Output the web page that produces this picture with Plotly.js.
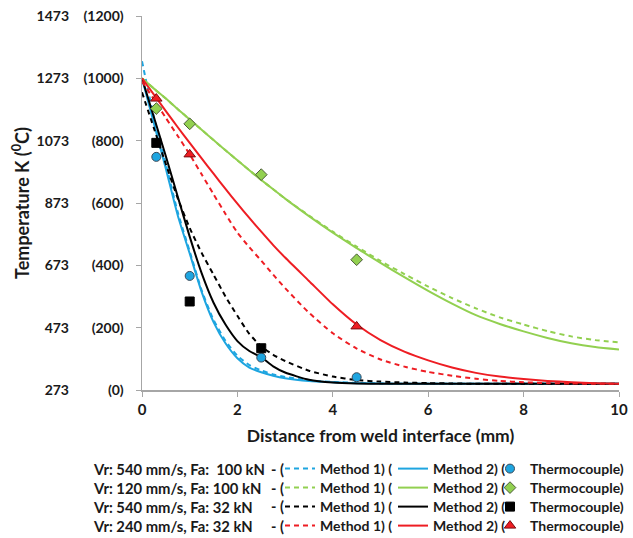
<!DOCTYPE html>
<html>
<head>
<meta charset="utf-8">
<script src="https://cdn.plot.ly/plotly-3.0.1.min.js"></script>
<style>html,body{margin:0;padding:0;background:#fff;}</style>
</head>
<body>
<div id="chart" style="width:633px;height:538px;"></div>
<script>
// ---- Data (distance in mm, temperature in °C) ----
const distanceMm = [0,0.25,0.5,0.75,1,1.25,1.5,1.75,2,2.25,2.5,2.75,3,3.5,4,4.5,5,5.5,6,6.5,7,7.5,8,8.5,9,9.5,10];

// Vr 540 mm/s, Fa 100 kN (blue)
const blueMethod1 = [1055,875,725,570,445,320,225,158,110,80,63,50,42,31,26,23,21,20,20,20,20,20,20,20,20,20,20];
const blueMethod2 = [1000,855,710,560,438,315,218,150,102,72,57,46,38,29,25,22,21,20,20,20,20,20,20,20,20,20,20];
// Vr 120 mm/s, Fa 100 kN (green)
const greenMethod1 = [1000,967,935,901,868,835,802,769,737,705,674,644,614,560,508,460,414,372,332,295,262,233,210,189,172,160,153];
const greenMethod2 = [1000,967,935,901,868,835,802,769,737,705,674,644,614,558,505,455,408,362,318,277,240,212,188,167,150,138,130];
// Vr 540 mm/s, Fa 32 kN (black)
const blackMethod1 = [955,840,725,615,520,440,370,300,238,180,140,113,93,62,43,32,27,24,22,21,20,20,20,20,20,20,20];
const blackMethod2 = [1000,875,750,620,492,375,280,210,157,125,105,76,56,33,24,21,20,20,20,20,20,20,20,20,20,20,20];
// Vr 240 mm/s, Fa 32 kN (red)
const redMethod1 = [990,932,873,815,756,692,628,565,505,458,415,370,327,248,182,133,98,75,58,46,36,29,25,22,21,20,20];
const redMethod2 = [1000,948,895,843,793,743,694,645,598,552,508,465,425,350,275,210,160,123,95,72,55,43,35,29,25,22,20];

// Thermocouple measurements
const blueTcX = [0.3,1,2.5,4.5];   const blueTcT = [748,366,104,41];
const greenTcX = [0.3,1,2.5,4.5];  const greenTcT = [903,854,691,418];
const blackTcX = [0.3,1,2.5];      const blackTcT = [793,284,134];
const redTcX = [0.3,1,4.5];        const redTcT = [935,756,204];

// Labels
const rowLabels = ['Vr: 540 mm/s, Fa:\u00a0 100 kN','Vr: 120 mm/s, Fa: 100 kN','Vr: 540 mm/s, Fa: 32 kN','Vr: 240 mm/s, Fa: 32 kN'];
const xTickVals = [0,2,4,6,8,10];
const yTickVals = [0,200,400,600,800,1000,1200];
const yTickCelsius = ['(0)','(200)','(400)','(600)','(800)','(1000)','(1200)'];
const yTickKelvin = ['273','473','673','873','1073','1273','1473'];

// ---- Styling ----
const colors = ['#1ea5e0','#92d050','#000000','#ee1d23'];
const markerSymbols = ['circle','diamond','square','triangle-up'];
const markerLines = ['#3a4a5a','#4d5d3a','#000000','#7a0d10'];
const method1 = [blueMethod1, greenMethod1, blackMethod1, redMethod1];
const method2 = [blueMethod2, greenMethod2, blackMethod2, redMethod2];
const tcX = [blueTcX, greenTcX, blackTcX, redTcX];
const tcT = [blueTcT, greenTcT, blackTcT, redTcT];

const plotLeft = 142, plotRight = 619, plotTop = 16, plotBottom = 390;
const W = plotRight - plotLeft, H = plotBottom - plotTop;
const rowPx = [469, 488, 507, 526];
const colPx = [280, 393, 490];
const px2x = p => (p - plotLeft) / W;
const px2y = p => (plotBottom - p) / H;

const traces = [];
const legends = {};
let li = 1;
for (let r = 0; r < 4; r++) {
  const ids = [];
  for (let c = 0; c < 3; c++) {
    const id = li === 1 ? 'legend' : 'legend' + li;
    legends[id] = {
      x: px2x(colPx[c]), y: px2y(rowPx[r]), xanchor: 'left', yanchor: 'middle',
      orientation: 'v', bgcolor: 'rgba(0,0,0,0)', borderwidth: 0,
      font: {size: 14, color: '#1a1a1a', weight: 'bold'}
    };
    ids.push(id);
    li++;
  }
  traces.push({
    x: distanceMm, y: method1[r], type: 'scatter', mode: 'lines', name: 'Method 1) (',
    line: {color: colors[r], width: 2, dash: '5px,4px', shape: 'spline', smoothing: 0.6},
    legend: ids[0], hoverinfo: 'x+y'
  });
  traces.push({
    x: distanceMm, y: method2[r], type: 'scatter', mode: 'lines', name: 'Method 2) (',
    line: {color: colors[r], width: 2, shape: 'spline', smoothing: 0.6},
    legend: ids[1], hoverinfo: 'x+y'
  });
}
for (let r = 0; r < 4; r++) {
  traces.push({
    x: tcX[r], y: tcT[r], type: 'scatter', mode: 'markers', name: 'Thermocouple)',
    yaxis: 'y2',
    marker: {symbol: markerSymbols[r], size: r === 3 ? 10 : 9, color: colors[r], line: {color: markerLines[r], width: 1}},
    legend: 'legend' + (r * 3 + 3)
  });
}

const annotations = [];
for (let r = 0; r < 4; r++) {
  annotations.push({xref: 'paper', yref: 'paper', x: px2x(91), y: px2y(rowPx[r]), xanchor: 'left', yanchor: 'middle',
    text: rowLabels[r], showarrow: false, font: {size: 14.8, color: '#1a1a1a', weight: 'bold'}});
  annotations.push({xref: 'paper', yref: 'paper', x: px2x(269), y: px2y(rowPx[r]), xanchor: 'left', yanchor: 'middle',
    text: '- (', showarrow: false, font: {size: 14.5, color: '#1a1a1a', weight: 'bold'}});
}

const axisLine = '#a6a6a6';
const layout = Object.assign({
  width: 633, height: 538,
  margin: {l: plotLeft, r: 633 - plotRight, t: plotTop, b: 538 - plotBottom, autoexpand: false},
  paper_bgcolor: '#ffffff', plot_bgcolor: '#ffffff',
  font: {family: 'Lato, "Open Sans", sans-serif', size: 14, color: '#1a1a1a', weight: 'bold'},
  showlegend: true,
  xaxis: {
    range: [0, 10], tickvals: xTickVals, showline: true, linecolor: axisLine, linewidth: 1.5,
    ticks: 'outside', ticklen: 5, tickcolor: axisLine, showgrid: false, zeroline: false,
    tickfont: {size: 15, weight: 'bold'}, automargin: false,
    title: {text: 'Distance from weld interface (mm)', font: {size: 17.5, weight: 'bold'}, standoff: 13}
  },
  yaxis: {
    range: [0, 1200], tickvals: yTickVals, ticktext: yTickCelsius, showline: true, linecolor: axisLine, linewidth: 1.5,
    ticks: 'outside', ticklen: 5, tickcolor: axisLine, showgrid: false, zeroline: false,
    tickfont: {size: 14, weight: 'bold'}, ticklabelstandoff: 9, automargin: false
  },
  yaxis2: {
    overlaying: 'y', side: 'left', anchor: 'x', range: [0, 1200], tickvals: yTickVals, ticktext: yTickKelvin,
    showline: false, ticks: '', showgrid: false, zeroline: false,
    tickfont: {size: 14, weight: 'bold'}, ticklabelstandoff: 72, automargin: false,
    title: {text: 'Temperature K (<sup>0</sup>C)', font: {size: 18, weight: 'bold'}, standoff: 2}
  },
  annotations: annotations
}, legends);

Plotly.newPlot('chart', traces, layout, {displayModeBar: false, staticPlot: true});
</script>
</body>
</html>
